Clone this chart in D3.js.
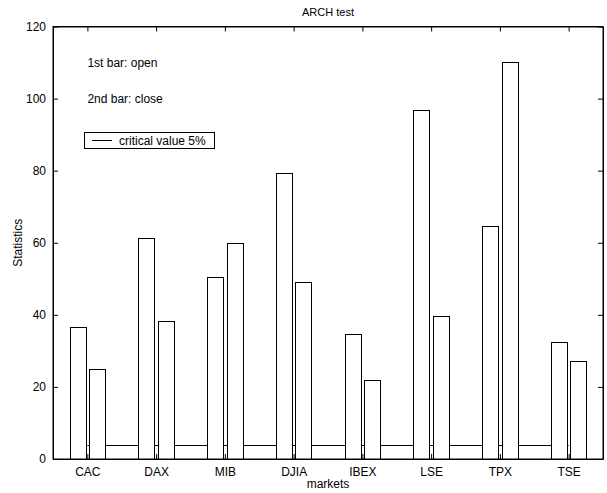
<!DOCTYPE html>
<html>
<head>
<meta charset="utf-8">
<script src="https://cdn.jsdelivr.net/npm/d3@7"></script>
<style>
  html, body { margin: 0; padding: 0; background: #fff; }
  svg { display: block; font-family: "Liberation Sans", Arial, Helvetica, sans-serif; }
</style>
</head>
<body>
<svg id="chart" width="607" height="493"></svg>
<script>
const markets = ["CAC", "DAX", "MIB", "DJIA", "IBEX", "LSE", "TPX", "TSE"];
const openStats = [36.7, 61.2, 50.5, 79.4, 34.6, 96.8, 64.7, 32.5];
const closeStats = [24.9, 38.4, 59.9, 49.0, 22.0, 39.8, 110.2, 27.3];
const criticalValue = 3.84;
const yTicks = [0, 20, 40, 60, 80, 100, 120];
const seriesNames = ["open", "close"];

const svg = d3.select("#chart");
const L = 53, R = 603, T = 26.5, B = 459;

const x = d3.scaleLinear().domain([0.5, markets.length + 0.5]).range([L, R]);
const y = d3.scaleLinear().domain([0, 120]).range([B, T]);
const unit = x(1) - x(0);
const inner = d3.scaleBand().domain(seriesNames).range([-0.26 * unit, 0.26 * unit]).paddingInner(0.185);

const rows = markets.map((m, i) => ({ m, i: i + 1, vals: [openStats[i], closeStats[i]] }));

// critical value line (behind bars)
svg.append("line")
  .attr("x1", x(1)).attr("x2", x(markets.length))
  .attr("y1", Math.round(y(criticalValue)) + 0.5).attr("y2", Math.round(y(criticalValue)) + 0.5)
  .attr("stroke", "#000").attr("stroke-width", 1);

// bars
const g = svg.append("g");
rows.forEach(r => {
  r.vals.forEach((v, k) => {
    const x0 = Math.round(x(r.i) + inner(seriesNames[k])) + 0.5;
    const w = Math.round(inner.bandwidth());
    const y0 = Math.round(y(v)) + 0.5;
    g.append("rect")
      .attr("x", x0).attr("y", y0)
      .attr("width", w).attr("height", Math.round(y(0)) - y0 + 0.5)
      .attr("fill", "#fff").attr("stroke", "#000").attr("stroke-width", 1);
  });
});

// frame
svg.append("rect")
  .attr("x", L).attr("y", T).attr("width", R - L).attr("height", B - T)
  .attr("fill", "none").attr("stroke", "#000").attr("stroke-width", 1);

const fs = "12px";
// axes
const xAxis = svg.append("g").attr("transform", `translate(0,${B})`)
  .call(d3.axisBottom(x).tickValues(d3.range(1, markets.length + 1))
    .tickFormat(d => markets[d - 1]).tickSizeInner(-5).tickSizeOuter(0).tickPadding(8));
const xAxisTop = svg.append("g").attr("transform", `translate(0,${T})`)
  .call(d3.axisTop(x).tickValues(d3.range(1, markets.length + 1))
    .tickFormat("").tickSizeInner(-5).tickSizeOuter(0));
const yAxis = svg.append("g").attr("transform", `translate(${L},0)`)
  .call(d3.axisLeft(y).tickValues(yTicks).tickSizeInner(-5).tickSizeOuter(0).tickPadding(7));
const yAxisR = svg.append("g").attr("transform", `translate(${R},0)`)
  .call(d3.axisRight(y).tickValues(yTicks).tickFormat("").tickSizeInner(-5).tickSizeOuter(0));

[xAxis, xAxisTop, yAxis, yAxisR].forEach(a => {
  a.select(".domain").attr("stroke", "#000");
  a.selectAll(".tick line").attr("stroke", "#000");
  a.selectAll("text").attr("font-size", fs).attr("fill", "#000")
    .attr("font-family", "Liberation Sans, Arial, sans-serif");
});

// title and labels
svg.append("text").attr("x", (L + R) / 2).attr("y", 16).attr("text-anchor", "middle")
  .attr("font-size", "11px").text("ARCH test");
svg.append("text").attr("x", (L + R) / 2).attr("y", 488).attr("text-anchor", "middle")
  .attr("font-size", fs).text("markets");
svg.append("text").attr("transform", `translate(22,${(T + B) / 2}) rotate(-90)`)
  .attr("text-anchor", "middle").attr("font-size", fs).text("Statistics");

// annotations
svg.append("text").attr("x", x(1)).attr("y", y(110)).attr("dy", "0.35em")
  .attr("font-size", fs).text("1st bar: open");
svg.append("text").attr("x", x(1)).attr("y", y(100)).attr("dy", "0.35em")
  .attr("font-size", fs).text("2nd bar: close");

// legend
const lg = svg.append("g");
lg.append("rect").attr("x", 84.5).attr("y", 132.5).attr("width", 130).attr("height", 16)
  .attr("fill", "#fff").attr("stroke", "#000");
lg.append("line").attr("x1", 92).attr("x2", 112).attr("y1", 140.5).attr("y2", 140.5).attr("stroke", "#000");
lg.append("text").attr("x", 119).attr("y", 140.5).attr("dy", "0.35em").attr("font-size", fs)
  .text("critical value 5%");
</script>
</body>
</html>
